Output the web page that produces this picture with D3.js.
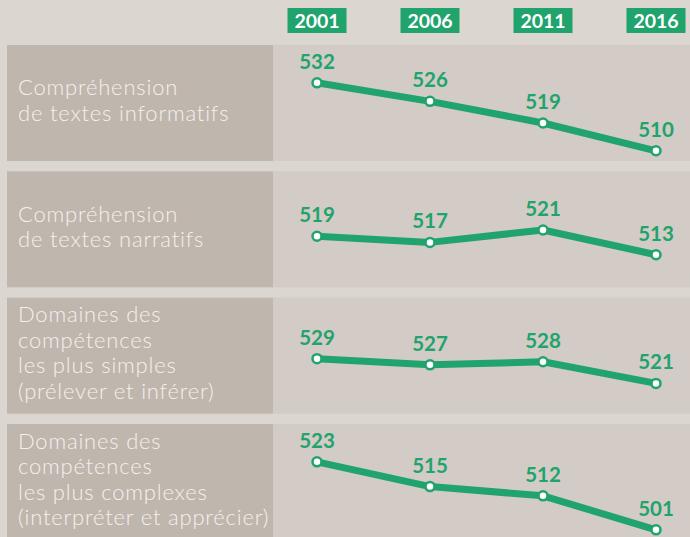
<!DOCTYPE html>
<html>
<head>
<meta charset="utf-8">
<script src="https://cdn.jsdelivr.net/npm/d3@7"></script>
<style>
  html, body { margin: 0; padding: 0; background: #dbd6d0; }
</style>
</head>
<body>
<div id="chart"></div>
<script>
const YEARS = [2001, 2006, 2011, 2016];

const ROW_LABELS = [
    ["Compréhension", "de textes informatifs"],
    ["Compréhension", "de textes narratifs"],
    ["Domaines des", "compétences", "les plus simples", "(prélever et inférer)"],
    ["Domaines des", "compétences", "les plus complexes", "(interpréter et apprécier)"]
];

const informatifs = [532, 526, 519, 510];
const narratifs = [519, 517, 521, 513];
const simples = [529, 527, 528, 521];
const complexes = [523, 515, 512, 501];

const SERIES = [informatifs, narratifs, simples, complexes];

const width = 690, height = 537;
const GREEN = "#21a36d";

const svg = d3.select("#chart")
    .append("svg")
    .attr("width", width)
    .attr("height", height)
    .style("display", "block")
    .style("background", "#dbd6d0");

const x = d3.scaleLinear()
    .domain([2001, 2016])
    .range([317, 656]);

const row = d3.scaleBand()
    .domain(d3.range(SERIES.length))
    .range([45, 540])
    .paddingInner(0.082)
    .paddingOuter(0);

// year header boxes
const head = svg.append("g")
    .selectAll("g")
    .data(YEARS)
    .join("g")
    .attr("transform", d => `translate(${x(d)},0)`);

head.append("rect")
    .attr("x", -29.5)
    .attr("y", 8)
    .attr("width", 59)
    .attr("height", 25)
    .attr("fill", GREEN);

head.append("text")
    .attr("y", 28)
    .attr("text-anchor", "middle")
    .style("font-family", "Lato, sans-serif")
    .style("font-weight", 700)
    .style("font-size", "19.5px")
    .attr("fill", "#fff")
    .text(d => d);

const line = d3.line();

SERIES.forEach((values, i) => {
    const top = row(i);
    const h = row.bandwidth();
    const mean = d3.mean(values);
    const mid = top + 69.5;
    const y = d3.scaleLinear()
        .domain([mean - 10, mean + 10])
        .range([mid + 30.9, mid - 30.9]);

    const g = svg.append("g");

    g.append("rect")
        .attr("x", 273)
        .attr("y", top)
        .attr("width", width - 273)
        .attr("height", h)
        .attr("fill", "#d3cbc5");

    g.append("rect")
        .attr("x", 7)
        .attr("y", top)
        .attr("width", 266)
        .attr("height", h)
        .attr("fill", "#bfb6ad");

    const lines = ROW_LABELS[i];
    const lh = 25.5;
    const firstBase = top + h / 2 - (lines.length - 1) * lh / 2 + 5;
    g.append("text")
        .style("font-family", "Lato, sans-serif")
        .style("font-weight", 300)
        .style("font-size", "22px")
        .style("letter-spacing", "0.8px")
        .attr("fill", "#f4f1ed")
        .selectAll("tspan")
        .data(lines)
        .join("tspan")
        .attr("x", 18)
        .attr("y", (d, k) => firstBase + k * lh)
        .text(d => d);

    const pts = values.map((v, k) => [x(YEARS[k]), y(v)]);

    g.append("path")
        .attr("d", line(pts))
        .attr("fill", "none")
        .attr("stroke", GREEN)
        .attr("stroke-width", 7)
        .attr("stroke-linejoin", "round");

    g.selectAll("circle")
        .data(values)
        .join("circle")
        .attr("cx", (d, k) => x(YEARS[k]))
        .attr("cy", d => y(d))
        .attr("r", 4.5)
        .attr("fill", "#fff")
        .attr("stroke", GREEN)
        .attr("stroke-width", 2.5);

    g.selectAll(".val")
        .data(values)
        .join("text")
        .attr("class", "val")
        .attr("x", (d, k) => x(YEARS[k]))
        .attr("y", d => y(d) - 14)
        .attr("text-anchor", "middle")
        .style("font-family", "Lato, sans-serif")
        .style("font-weight", 700)
        .style("font-size", "20.5px")
        .attr("fill", GREEN)
        .text(d => d);
});
</script>
</body>
</html>
